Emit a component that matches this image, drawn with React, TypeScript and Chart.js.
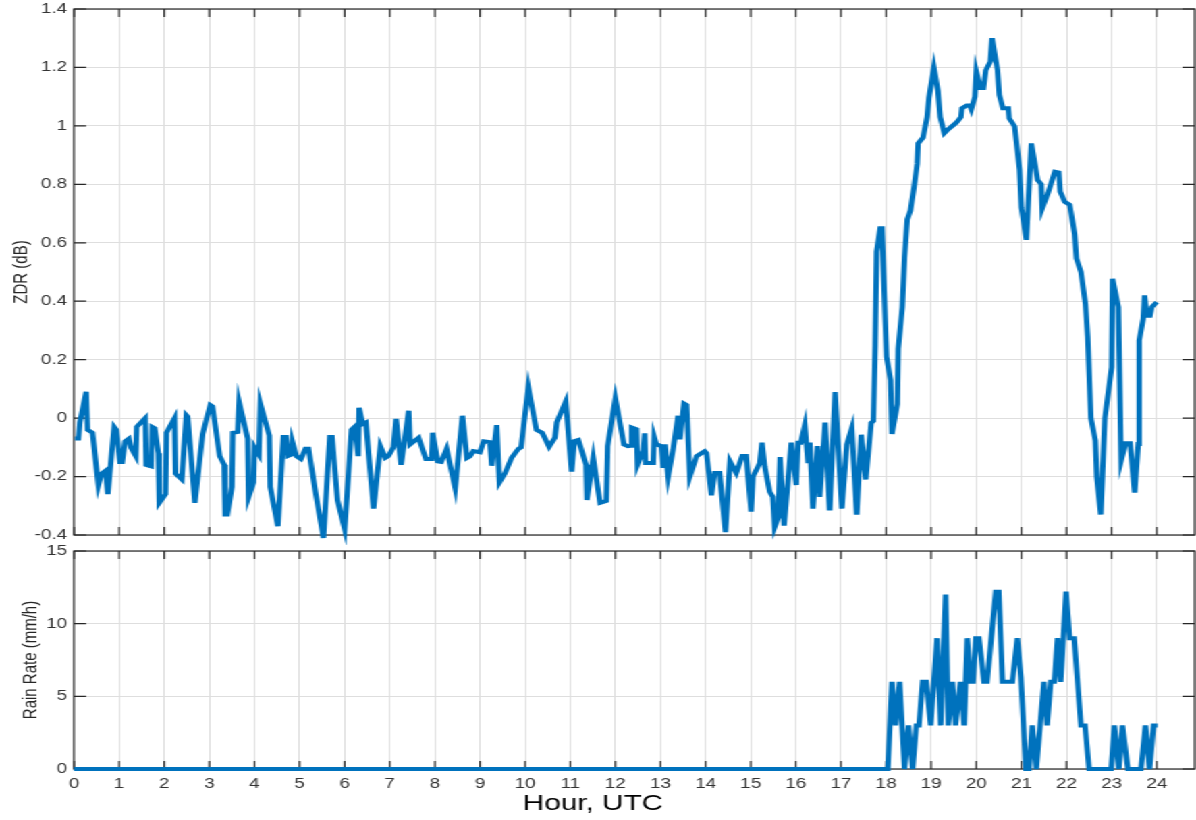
import React, { useEffect, useRef } from 'react';
import { Chart, registerables } from 'chart.js';

Chart.register(...registerables);

// ---------- data ----------
const hourTicks = [0, 1, 2, 3, 4, 5, 6, 7, 8, 9, 10, 11, 12, 13, 14, 15, 16, 17, 18, 19, 20, 21, 22, 23, 24];
const zdrTicks = [-0.4, -0.2, 0, 0.2, 0.4, 0.6, 0.8, 1, 1.2, 1.4];
const rainTicks = [0, 5, 10, 15];
const xTitle = 'Hour, UTC';

const zdrHours = [
  0.02, 0.10, 0.13, 0.27, 0.30, 0.41, 0.54, 0.61, 0.70, 0.75,
  0.89, 0.94, 1.02, 1.07, 1.13, 1.22, 1.26, 1.37, 1.39, 1.58,
  1.60, 1.71, 1.73, 1.79, 1.87, 1.89, 2.03, 2.05, 2.23, 2.25,
  2.39, 2.49, 2.52, 2.68, 2.85, 3.02, 3.07, 3.23, 3.33, 3.35,
  3.40, 3.50, 3.52, 3.63, 3.66, 3.85, 3.87, 3.98, 4.00, 4.10,
  4.13, 4.33, 4.35, 4.52, 4.64, 4.70, 4.74, 4.82, 4.84, 4.93,
  5.03, 5.13, 5.20, 5.36, 5.53, 5.67, 5.72, 5.84, 6.00, 6.15,
  6.22, 6.30, 6.32, 6.40, 6.47, 6.64, 6.79, 6.90, 6.97, 7.08,
  7.14, 7.25, 7.42, 7.45, 7.64, 7.80, 7.93, 7.95, 8.06, 8.14,
  8.26, 8.45, 8.61, 8.71, 8.78, 8.85, 9.00, 9.08, 9.22, 9.26,
  9.37, 9.43, 9.55, 9.70, 9.85, 9.91, 10.07, 10.25, 10.38, 10.53,
  10.66, 10.70, 10.90, 11.03, 11.09, 11.18, 11.35, 11.37, 11.51, 11.66,
  11.80, 11.83, 12.00, 12.19, 12.28, 12.34, 12.36, 12.47, 12.49, 12.62,
  12.65, 12.67, 12.84, 12.86, 12.91, 13.02, 13.06, 13.10, 13.17, 13.28,
  13.39, 13.43, 13.52, 13.58, 13.65, 13.80, 13.98, 14.02, 14.13, 14.20,
  14.31, 14.44, 14.54, 14.68, 14.81, 14.90, 15.01, 15.05, 15.20, 15.25,
  15.31, 15.42, 15.49, 15.53, 15.61, 15.65, 15.74, 15.90, 16.01, 16.05,
  16.11, 16.20, 16.27, 16.31, 16.38, 16.48, 16.53, 16.65, 16.75, 16.87,
  17.02, 17.13, 17.24, 17.35, 17.45, 17.55, 17.67, 17.72, 17.76, 17.79,
  17.87, 17.91, 18.01, 18.10, 18.13, 18.25, 18.27, 18.36, 18.41, 18.47,
  18.54, 18.62, 18.69, 18.71, 18.82, 18.91, 18.95, 19.06, 19.15, 19.20,
  19.29, 19.36, 19.55, 19.66, 19.68, 19.79, 19.86, 19.89, 19.97, 20.00,
  20.09, 20.16, 20.21, 20.31, 20.35, 20.47, 20.51, 20.59, 20.71, 20.73,
  20.85, 20.96, 21.00, 21.11, 21.22, 21.36, 21.44, 21.46, 21.59, 21.74,
  21.83, 21.86, 21.96, 22.07, 22.18, 22.22, 22.32, 22.42, 22.47, 22.54,
  22.64, 22.67, 22.76, 22.85, 23.00, 23.02, 23.15, 23.21, 23.31, 23.41,
  23.51, 23.59, 23.61, 23.70, 23.73, 23.78, 23.85, 23.89, 24.00,
];
const zdrValues = [
  -0.07, -0.07, -0.015, 0.09, -0.04, -0.05, -0.23, -0.19, -0.18, -0.26,
  -0.03, -0.04, -0.15, -0.15, -0.08, -0.07, -0.10, -0.13, -0.03, 0.0,
  -0.16, -0.165, -0.03, -0.035, -0.12, -0.29, -0.26, -0.05, 0.0, -0.19,
  -0.21, 0.01, 0.005, -0.29, -0.055, 0.045, 0.04, -0.13, -0.16, -0.33,
  -0.33, -0.235, -0.05, -0.047, 0.055, -0.07, -0.27, -0.22, -0.10, -0.125,
  0.05, -0.06, -0.235, -0.37, -0.065, -0.065, -0.13, -0.125, -0.08, -0.13,
  -0.14, -0.105, -0.105, -0.26, -0.41, -0.065, -0.065, -0.28, -0.38, -0.04,
  -0.03, -0.13, 0.035, -0.02, -0.015, -0.31, -0.096, -0.136, -0.13, -0.10,
  -0.003, -0.16, 0.025, -0.09, -0.067, -0.14, -0.14, -0.05, -0.148, -0.15,
  -0.105, -0.24, 0.008, -0.136, -0.13, -0.113, -0.117, -0.079, -0.082, -0.163,
  -0.024, -0.22, -0.19, -0.136, -0.105, -0.1, 0.106, -0.04, -0.05, -0.098,
  -0.067, -0.015, 0.057, -0.183, -0.079, -0.075, -0.16, -0.28, -0.136, -0.29,
  -0.283, -0.096, 0.068, -0.09, -0.096, -0.095, -0.032, -0.038, -0.16, -0.11,
  -0.052, -0.154, -0.154, -0.064, -0.09, -0.096, -0.17, -0.09, -0.2, -0.107,
  0.008, -0.073, 0.05, 0.045, -0.2, -0.13, -0.113, -0.12, -0.264, -0.188,
  -0.188, -0.39, -0.148, -0.188, -0.13, -0.13, -0.32, -0.2, -0.154, -0.084,
  -0.165, -0.252, -0.27, -0.373, -0.34, -0.133, -0.368, -0.084, -0.229, -0.084,
  -0.084, -0.024, -0.154, -0.084, -0.31, -0.096, -0.27, -0.015, -0.316, 0.089,
  -0.31, -0.09, -0.034, -0.33, -0.057, -0.21, -0.016, -0.01, 0.25, 0.57,
  0.65, 0.65, 0.21, 0.13, -0.054, 0.048, 0.237, 0.38, 0.55, 0.68,
  0.71, 0.79, 0.87, 0.94, 0.96, 1.03, 1.095, 1.2, 1.12, 1.03,
  0.975, 0.986, 1.01, 1.03, 1.06, 1.07, 1.07, 1.057, 1.10, 1.186,
  1.13, 1.13, 1.19, 1.22, 1.30, 1.19, 1.106, 1.06, 1.06, 1.026,
  0.998, 0.85, 0.72, 0.61, 0.94, 0.815, 0.80, 0.717, 0.77, 0.843,
  0.84, 0.775, 0.74, 0.73, 0.63, 0.546, 0.5, 0.39, 0.277, 0.0,
  -0.077, -0.2, -0.33, 0.0, 0.174, 0.477, 0.38, -0.146, -0.086, -0.086,
  -0.255, -0.089, 0.266, 0.34, 0.42, 0.35, 0.35, 0.38, 0.397,
];

const rainHours = [
  0, 18.04, 18.13, 18.21, 18.30, 18.41, 18.50, 18.59, 18.67, 18.73,
  18.81, 18.89, 18.99, 19.13, 19.21, 19.32, 19.38, 19.47, 19.54, 19.65,
  19.73, 19.80, 19.87, 19.93, 19.99, 20.06, 20.17, 20.24, 20.43, 20.50,
  20.58, 20.80, 20.91, 20.99, 21.10, 21.17, 21.24, 21.33, 21.50, 21.57,
  21.65, 21.73, 21.80, 21.87, 21.99, 22.07, 22.17, 22.32, 22.41, 22.50,
  22.99, 23.06, 23.16, 23.24, 23.36, 23.65, 23.75, 23.84, 23.93, 24.02,
];
const rainValues = [
  0, 0, 6, 3, 6, 0, 3, 0, 3, 3,
  6, 6, 3, 9, 3, 12, 3, 6, 3, 6,
  3, 9, 6, 6, 9, 9, 6, 6, 12.2, 12.2,
  6, 6, 9, 6.3, 0, 0, 3, 0, 6, 3,
  6, 6, 9, 6, 12.2, 9, 9, 3, 3, 0,
  0, 3, 0, 3, 0, 0, 3, 0, 3, 3,
];

// ---------- style / layout ----------
const FULL_W = 1196;
const CANVAS_W = 886;
const STRETCH = FULL_W / CANVAS_W;
const TOP_H = 545;
const BOT_H = 275;
const Y_AXIS_W = 74 / STRETCH;
const X_MAX = 24.84;
const X_TITLE_CX = 593 / STRETCH;
const X_TITLE_CY = 804 - TOP_H;

const FONT = "'Liberation Sans', Arial, Helvetica, sans-serif";
const LINE = '#0072BD';
const AXIS = '#262626';
const GRID = '#dedede';
const TICK_TEXT = '#333333';

const boxPlugin = {
  id: 'matlabBox',
  beforeDatasetsDraw(chart: any) {
    const { ctx, chartArea, scales } = chart;
    const { left, right, top, bottom } = chartArea;
    ctx.save();
    ctx.strokeStyle = AXIS;
    ctx.lineWidth = 1.2;
    ctx.beginPath();
    scales.x.ticks.forEach((t: any) => {
      const px = scales.x.getPixelForValue(t.value);
      ctx.moveTo(px, top);
      ctx.lineTo(px, top + 8);
      ctx.moveTo(px, bottom);
      ctx.lineTo(px, bottom - 8);
    });
    scales.y.ticks.forEach((t: any) => {
      const py = scales.y.getPixelForValue(t.value);
      ctx.moveTo(left, py);
      ctx.lineTo(left + 9, py);
      ctx.moveTo(right, py);
      ctx.lineTo(right - 9, py);
    });
    ctx.stroke();
    ctx.strokeRect(left, top, right - left, bottom - top);
    ctx.restore();
  },
};

const xTitlePlugin = {
  id: 'xTitle',
  afterDraw(chart: any) {
    const { ctx } = chart;
    ctx.save();
    ctx.font = `22px ${FONT}`;
    ctx.fillStyle = '#000000';
    ctx.textAlign = 'center';
    ctx.textBaseline = 'middle';
    ctx.fillText(xTitle, X_TITLE_CX, X_TITLE_CY);
    ctx.restore();
  },
};

function lineDataset(hours: number[], values: number[]) {
  return {
    data: hours.map((h, i) => ({ x: h, y: values[i] })),
    borderColor: LINE,
    backgroundColor: LINE,
    borderWidth: 4,
    pointRadius: 0,
    pointHoverRadius: 0,
    tension: 0,
    fill: false,
    clip: false as any,
    borderJoinStyle: 'miter' as const,
  };
}

export default function App() {
  const topRef = useRef<HTMLCanvasElement | null>(null);
  const botRef = useRef<HTMLCanvasElement | null>(null);

  useEffect(() => {
    if (!topRef.current || !botRef.current) return;

    const topChart = new Chart(topRef.current, {
      type: 'line',
      data: { datasets: [lineDataset(zdrHours, zdrValues) as any] },
      options: {
        animation: false,
        responsive: false,
        devicePixelRatio: 1,
        events: [],
        layout: { padding: { top: 9, right: 1, bottom: 10, left: 0 } },
        plugins: { legend: { display: false }, tooltip: { enabled: false } },
        scales: {
          x: {
            type: 'linear',
            min: 0,
            max: X_MAX,
            afterBuildTicks: (s: any) => { s.ticks = hourTicks.map((v) => ({ value: v })); },
            afterFit: (s: any) => { s.height = 0; s.paddingLeft = 0; s.paddingRight = 0; },
            ticks: { display: false },
            grid: { color: GRID, lineWidth: 1, drawTicks: false },
            border: { display: false },
          },
          y: {
            type: 'linear',
            min: -0.4,
            max: 1.4,
            afterBuildTicks: (s: any) => { s.ticks = zdrTicks.map((v) => ({ value: v })); },
            afterFit: (s: any) => { s.width = Y_AXIS_W; s.paddingTop = 0; s.paddingBottom = 0; },
            ticks: {
              font: { family: FONT, size: 14 },
              color: TICK_TEXT,
              padding: 5,
              autoSkip: false,
              callback: (v: any) => String(v),
            },
            grid: { color: GRID, lineWidth: 1, drawTicks: false },
            border: { display: false },
            title: {
              display: true,
              text: 'ZDR (dB)',
              font: { family: FONT, size: 15 },
              color: '#262626',
              padding: { top: 7, bottom: 0 },
            },
          },
        },
      } as any,
      plugins: [boxPlugin],
    });

    const botChart = new Chart(botRef.current, {
      type: 'line',
      data: { datasets: [lineDataset(rainHours, rainValues) as any] },
      options: {
        animation: false,
        responsive: false,
        devicePixelRatio: 1,
        events: [],
        layout: { padding: { top: 6, right: 1, bottom: 0, left: 0 } },
        plugins: { legend: { display: false }, tooltip: { enabled: false } },
        scales: {
          x: {
            type: 'linear',
            min: 0,
            max: X_MAX,
            afterBuildTicks: (s: any) => { s.ticks = hourTicks.map((v) => ({ value: v })); },
            afterFit: (s: any) => { s.height = 51; s.paddingLeft = 0; s.paddingRight = 0; },
            ticks: {
              font: { family: FONT, size: 14 },
              color: TICK_TEXT,
              padding: 7,
              autoSkip: false,
              maxRotation: 0,
              minRotation: 0,
              callback: (v: any) => String(v),
            },
            grid: { color: GRID, lineWidth: 1, drawTicks: false },
            border: { display: false },
          },
          y: {
            type: 'linear',
            min: 0,
            max: 15,
            afterBuildTicks: (s: any) => { s.ticks = rainTicks.map((v) => ({ value: v })); },
            afterFit: (s: any) => { s.width = Y_AXIS_W; s.paddingTop = 0; s.paddingBottom = 0; },
            ticks: {
              font: { family: FONT, size: 14 },
              color: TICK_TEXT,
              padding: 5,
              autoSkip: false,
              callback: (v: any) => String(v),
            },
            grid: { color: GRID, lineWidth: 1, drawTicks: false },
            border: { display: false },
            title: {
              display: true,
              text: 'Rain Rate (mm/h)',
              font: { family: FONT, size: 15 },
              color: '#262626',
              padding: { top: 13.5, bottom: 0 },
            },
          },
        },
      } as any,
      plugins: [boxPlugin, xTitlePlugin],
    });

    return () => {
      topChart.destroy();
      botChart.destroy();
    };
  }, []);

  return (
    <div
      style={{
        position: 'fixed',
        left: 0,
        top: 0,
        width: FULL_W,
        height: 820,
        background: '#ffffff',
        overflow: 'hidden',
      }}
    >
      <div
        style={{
          width: CANVAS_W,
          height: 820,
          transform: `scaleX(${STRETCH})`,
          transformOrigin: '0 0',
        }}
      >
        <canvas ref={topRef} width={CANVAS_W} height={TOP_H} style={{ display: 'block', width: CANVAS_W, height: TOP_H }} />
        <canvas ref={botRef} width={CANVAS_W} height={BOT_H} style={{ display: 'block', width: CANVAS_W, height: BOT_H }} />
      </div>
    </div>
  );
}
